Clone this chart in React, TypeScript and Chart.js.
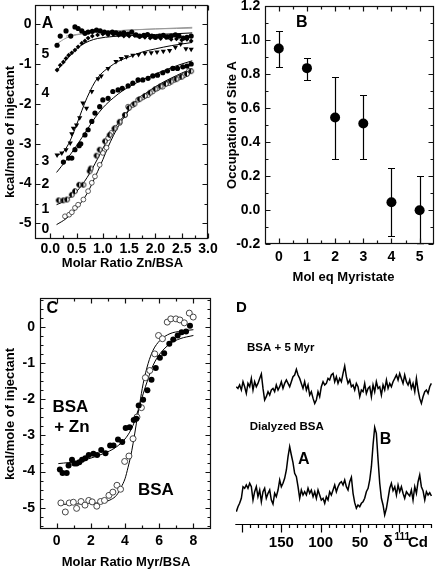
import React, { useEffect, useRef } from "react";
import { Chart, registerables } from "chart.js";
Chart.register(...registerables);

const FONT = 'Arial, "Liberation Sans", Helvetica, sans-serif';

// ---------------- Panel A: ITC Zn into BSA with 0..5 eq myristate ----------------
const aXTicks = [0, 0.5, 1, 1.5, 2, 2.5, 3];
const aXMinor = [0.25, 0.75, 1.25, 1.75, 2.25, 2.75];
const aYTicks = [0, -1, -2, -3, -4, -5];
const aYMinor = [-0.5, -1.5, -2.5, -3.5, -4.5];

const a0X = [0.28, 0.36, 0.41, 0.47, 0.53, 0.63, 0.72, 0.79, 0.85, 0.94, 1.0, 1.07, 1.1, 1.16, 1.24, 1.32, 1.42, 1.48, 1.57, 1.67, 1.76, 1.86, 1.95, 2.04, 2.14, 2.26, 2.36, 2.45, 2.55, 2.64];
const a0Y = [-4.82, -4.78, -4.72, -4.61, -4.53, -4.4, -4.19, -3.98, -3.82, -3.53, -3.23, -3.1, -2.86, -2.73, -2.6, -2.48, -2.28, -2.07, -2.03, -1.9, -1.84, -1.78, -1.69, -1.61, -1.57, -1.48, -1.4, -1.34, -1.28, -1.17];
const a1X = [0.16, 0.25, 0.32, 0.41, 0.47, 0.55, 0.63, 0.75, 0.77, 0.88, 0.94, 1.04, 1.13, 1.22, 1.32, 1.42, 1.5, 1.6, 1.7, 1.8, 1.9, 2.0, 2.1, 2.2, 2.3, 2.4, 2.5, 2.6, 2.68];
const a1Y = [-4.42, -4.42, -4.4, -4.28, -4.19, -4.03, -4.03, -3.69, -3.62, -3.3, -3.15, -2.94, -2.78, -2.62, -2.45, -2.28, -2.1, -2.0, -1.88, -1.8, -1.72, -1.63, -1.56, -1.5, -1.44, -1.38, -1.32, -1.25, -1.18];
const a2X = [0.25, 0.35, 0.41, 0.47, 0.55, 0.58, 0.66, 0.72, 0.79, 0.85, 0.94, 1.0, 1.1, 1.19, 1.29, 1.37, 1.48, 1.57, 1.67, 1.76, 1.86, 1.95, 2.04, 2.14, 2.23, 2.33, 2.42, 2.52, 2.6, 2.68];
const a2Y = [-3.46, -3.36, -3.36, -3.15, -3.05, -3.0, -2.78, -2.65, -2.44, -2.23, -2.07, -1.9, -1.86, -1.69, -1.65, -1.61, -1.55, -1.48, -1.4, -1.4, -1.36, -1.3, -1.28, -1.22, -1.17, -1.11, -1.11, -1.07, -1.05, -1.0];
const a3X = [0.13, 0.22, 0.3, 0.38, 0.41, 0.44, 0.5, 0.56, 0.62, 0.69, 0.79, 0.91, 0.97, 1.1, 1.25, 1.35, 1.45, 1.57, 1.68, 1.8, 1.92, 2.03, 2.15, 2.27, 2.38, 2.48, 2.58, 2.68];
const a3Y = [-3.28, -3.23, -3.15, -2.98, -2.75, -2.61, -2.53, -2.35, -1.98, -2.11, -1.69, -1.37, -1.3, -1.11, -0.94, -0.86, -0.82, -0.78, -0.76, -0.73, -0.72, -0.7, -0.68, -0.66, -0.58, -0.5, -0.62, -0.63];
const a4X = [0.13, 0.19, 0.25, 0.3, 0.35, 0.41, 0.47, 0.53, 0.6, 0.66, 0.72, 0.8, 0.9, 1.0, 1.1, 1.2, 1.3, 1.4, 1.5, 1.6, 1.7, 1.8, 1.9, 2.0, 2.1, 2.2, 2.3, 2.4, 2.5, 2.6, 2.68];
const a4Y = [-1.15, -1.03, -0.95, -0.86, -0.78, -0.72, -0.65, -0.57, -0.48, -0.42, -0.35, -0.3, -0.27, -0.25, -0.27, -0.26, -0.28, -0.3, -0.3, -0.28, -0.32, -0.33, -0.35, -0.32, -0.36, -0.34, -0.38, -0.37, -0.4, -0.38, -0.42];
const a5X = [0.13, 0.19, 0.3, 0.39, 0.47, 0.53, 0.6, 0.66, 0.72, 0.8, 0.88, 0.95, 1.03, 1.1, 1.18, 1.25, 1.33, 1.4, 1.48, 1.55, 1.63, 1.7, 1.78, 1.85, 1.93, 2.0, 2.08, 2.15, 2.23, 2.3, 2.38, 2.45, 2.53, 2.6, 2.68];
const a5Y = [-0.53, -0.3, -0.17, -0.3, -0.07, -0.11, -0.17, -0.23, -0.2, -0.18, -0.15, -0.17, -0.2, -0.22, -0.2, -0.22, -0.24, -0.22, -0.25, -0.2, -0.27, -0.3, -0.28, -0.26, -0.3, -0.33, -0.3, -0.28, -0.32, -0.3, -0.27, -0.3, -0.35, -0.33, -0.3];

const aFit0X = [0.12, 0.3, 0.5, 0.7, 0.9, 1.0, 1.1, 1.2, 1.3, 1.45, 1.6, 1.8, 2.0, 2.2, 2.4, 2.6, 2.7];
const aFit0Y = [-5.03, -4.88, -4.62, -4.25, -3.7, -3.4, -3.08, -2.8, -2.55, -2.25, -2.0, -1.78, -1.6, -1.45, -1.32, -1.2, -1.15];
const aFit1X = [0.12, 0.3, 0.5, 0.7, 0.9, 1.0, 1.1, 1.2, 1.3, 1.45, 1.6, 1.8, 2.0, 2.2, 2.4, 2.6, 2.7];
const aFit1Y = [-4.53, -4.42, -4.2, -3.85, -3.38, -3.12, -2.88, -2.66, -2.47, -2.22, -1.97, -1.75, -1.57, -1.42, -1.29, -1.17, -1.12];
const aFit2X = [0.12, 0.3, 0.5, 0.7, 0.85, 1.0, 1.2, 1.4, 1.6, 1.8, 2.0, 2.25, 2.5, 2.7];
const aFit2Y = [-3.72, -3.42, -3.05, -2.65, -2.35, -2.1, -1.85, -1.65, -1.5, -1.37, -1.25, -1.12, -1.0, -0.92];
const aFit3X = [0.12, 0.25, 0.35, 0.45, 0.55, 0.65, 0.75, 0.85, 0.95, 1.1, 1.3, 1.5, 1.75, 2.0, 2.3, 2.7];
const aFit3Y = [-3.3, -3.2, -3.0, -2.7, -2.35, -2.0, -1.7, -1.45, -1.27, -1.1, -0.93, -0.82, -0.7, -0.62, -0.54, -0.46];
const aFit4X = [0.12, 0.2, 0.3, 0.4, 0.5, 0.6, 0.75, 0.9, 1.2, 1.6, 2.0, 2.4, 2.7];
const aFit4Y = [-1.18, -1.05, -0.9, -0.75, -0.62, -0.52, -0.42, -0.36, -0.31, -0.28, -0.26, -0.24, -0.22];
const aFit5aX = [0.12, 0.3, 0.5, 0.8, 1.2, 1.6, 2.0, 2.4, 2.7];
const aFit5aY = [-0.5, -0.35, -0.27, -0.21, -0.17, -0.14, -0.12, -0.11, -0.1];
const aFit5bX = [0.3, 0.6, 1.0, 1.5, 2.0, 2.7];
const aFit5bY = [-0.3, -0.24, -0.19, -0.15, -0.12, -0.08];

const aCurveLabels = ["0", "1", "2", "3", "4", "5"];
const aCurveLabelY = [-5.15, -4.65, -4.01, -3.44, -1.73, -0.75];

// ---------------- Panel B: occupation of site A ----------------
const bXTicks = [0, 1, 2, 3, 4, 5];
const bXMinor = [0.5, 1.5, 2.5, 3.5, 4.5];
const bYTicks = [-0.2, 0, 0.2, 0.4, 0.6, 0.8, 1.0, 1.2];
const bYMinor = [-0.1, 0.1, 0.3, 0.5, 0.7, 0.9, 1.1];
const bX = [0, 1, 2, 3, 4, 5];
const bY = [0.95, 0.835, 0.545, 0.51, 0.047, 0.0];
const bLow = [0.842, 0.765, 0.3, 0.3, -0.152, -0.2];
const bHigh = [1.055, 0.896, 0.78, 0.675, 0.25, 0.2];

// ---------------- Panel C: ITC myristate into BSA ----------------
const cXTicks = [0, 2, 4, 6, 8];
const cXMinor = [1, 3, 5, 7];
const cYTicks = [0, -1, -2, -3, -4, -5];
const cYMinor = [0.75, 0.5, 0.25, -0.25, -0.5, -0.75, -1.25, -1.5, -1.75, -2.25, -2.5, -2.75, -3.25, -3.5, -3.75, -4.25, -4.5, -4.75, -5.25, -5.5];
const cZnX = [0.19, 0.35, 0.59, 0.7, 0.9, 1.04, 1.17, 1.33, 1.49, 1.68, 1.88, 2.15, 2.37, 2.61, 2.86, 3.13, 3.33, 3.59, 3.84, 4.04, 4.27, 4.51, 4.66, 4.8, 5.06, 5.31, 5.55, 5.8, 6.04, 6.29, 6.59, 6.82, 7.08, 7.31, 7.57, 7.8];
const cZnY = [-3.94, -4.04, -4.04, -3.83, -3.67, -3.78, -3.78, -3.74, -3.67, -3.63, -3.54, -3.51, -3.54, -3.4, -3.49, -3.28, -3.28, -3.11, -3.18, -2.79, -2.77, -2.57, -2.54, -2.17, -2.01, -1.75, -1.46, -1.13, -0.85, -0.72, -0.46, -0.34, -0.23, -0.14, -0.12, 0.04];
const cBsaX = [0.25, 0.51, 0.74, 0.98, 1.17, 1.43, 1.66, 1.88, 2.08, 2.35, 2.57, 2.8, 3.06, 3.29, 3.53, 3.74, 3.98, 4.23, 4.47, 4.7, 4.96, 5.19, 5.45, 5.74, 5.96, 6.19, 6.47, 6.68, 6.98, 7.21, 7.47, 7.76, 7.99];
const cBsaY = [-4.87, -5.12, -4.87, -4.85, -5.02, -4.83, -4.93, -4.8, -4.84, -4.96, -4.83, -4.8, -4.66, -4.57, -4.38, -4.49, -3.72, -3.57, -3.09, -2.49, -2.23, -1.4, -1.2, -0.74, -0.23, -0.32, 0.14, 0.23, 0.23, 0.2, 0.12, 0.39, 0.28];
const cBsaFitX = [0.2, 1, 2, 2.7, 3.2, 3.5, 3.78, 4.0, 4.18, 4.33, 4.47, 4.66, 4.86, 5.06, 5.35, 5.64, 6.04, 6.63, 7.3, 8.0];
const cBsaFitY = [-4.91, -4.9, -4.88, -4.85, -4.77, -4.66, -4.43, -4.2, -3.88, -3.58, -3.23, -2.68, -2.12, -1.57, -1.01, -0.64, -0.37, -0.18, -0.11, -0.07];
const cZnFitX = [0.1, 1.33, 2.7, 3.49, 4.08, 4.47, 4.76, 5.06, 5.35, 5.64, 6.04, 6.63, 7.22, 8.0];
const cZnFitY = [-3.78, -3.71, -3.51, -3.32, -3.05, -2.72, -2.31, -1.85, -1.43, -1.06, -0.74, -0.46, -0.32, -0.23];

// ---------------- Panel D: 111Cd NMR spectra ----------------
const dMajor = [200, 150, 100, 50, 0];
const dMinor = [190, 180, 170, 160, 140, 130, 120, 110, 90, 80, 70, 60, 40, 30, 20, 10, -10, -20, -30, -40];
const dLabels = [150, 100, 50];
const dPpm = [207.2, 205.1, 203.0, 200.8, 198.7, 196.6, 194.5, 192.4, 190.2, 188.1, 186.0, 183.9, 181.8, 179.7, 177.5, 175.4, 173.3, 171.2, 169.1, 166.9, 164.8, 162.7, 160.6, 158.5, 156.4, 154.2, 152.1, 150.0, 147.9, 145.8, 143.6, 141.5, 139.4, 137.3, 135.2, 133.1, 130.9, 128.8, 126.7, 124.6, 122.5, 120.4, 118.2, 116.1, 114.0, 111.9, 109.7, 107.6, 105.5, 103.4, 101.3, 99.2, 97.0, 94.9, 92.8, 90.7, 88.6, 86.5, 84.3, 82.2, 80.1, 78.0, 75.9, 73.7, 71.6, 69.5, 67.4, 65.3, 63.1, 61.0, 58.9, 56.8, 54.7, 52.6, 50.4, 48.3, 46.2, 44.1, 42.0, 39.8, 37.7, 35.6, 33.5, 31.4, 29.3, 27.1, 25.0, 22.9, 20.8, 18.7, 16.5, 14.4, 12.3, 10.2, 8.1, 5.9, 3.8, 1.7, -0.4, -2.5, -4.6, -6.7, -8.9, -11.0, -13.1, -15.2, -17.3, -19.5, -21.6, -23.7, -25.8, -27.9, -30.0, -32.2, -34.3, -36.4, -38.5, -40.6];
const dTop = [0, -1.7, 1.7, -3.3, 5, 0, -6.7, 3.3, 0, 8.3, -3.3, 5, 0, 3.3, 8.3, 12.7, -1.7, -13.3, -10, -5, -8.3, -3.3, -1.7, -5, 1.7, -3.3, 0, 5, -1.7, 3.3, 6.7, 3.3, 0, 5, 10, 11.7, 17.3, 11.7, 8.3, 3.3, -1.7, 5, -3.3, 1.7, -8.3, -5, -11.7, -16.7, -13.3, -5, -10, 0, 5, 1.7, 3.3, 8.3, 6.7, 11.7, 13.3, 5, 10, 3.3, 8.3, 5, 13.3, 20.7, 10, 3.3, 6.7, 0, 1.7, -3.3, 3.3, 0, -10, -3.3, -5, 3.3, -6.7, -1.7, 0, -10, 1.7, -5, 5, -1.7, 0, -8.3, 1.7, -3.3, 6.7, -1.7, 3.3, 0, 5, 8.3, 11.7, 6.7, 13.3, 8.3, 3.3, 11.7, 5, 1.7, 6.7, -1.7, 3.3, -5, 8.3, -3.3, -11.7, -16.7, -10, -5, -3.3, -6.7, 0, 3.3];
const dBot = [-16.7, -11.7, -8.3, -3.3, 8.3, 6.7, 10, 6.7, 11.7, 8.3, -5, 3.3, 8.3, -1.7, 5, -6.7, 3.3, 6.7, -3.3, 1.7, 5, -5, -9, 1.7, -1.7, 5, 15, 8.3, 11.7, 16.7, 25, 38.3, 48.3, 40, 32.3, 21.7, 18.3, 8.3, -3.3, 5, 0, 3.3, 0, 6.7, 1.7, 5, -1.7, 3.3, -3.3, 5, 0, -5, -3.3, -8.3, -1.7, -5, 3.3, 0, 5, 10, 3.3, 8.3, 11.7, 13.3, 10, 15, 8.3, 5, 13.3, 17.7, 1.7, -7.7, -13.3, -10, -11.7, -8.3, -6.7, -3.3, 3.3, 6.7, 15, 28.3, 50, 67.7, 61.7, 35, 11.7, -3.3, -10, -20, -13.3, -3.3, 6.7, 11.7, 4.3, 8.3, 0, 10, 3.3, 8.3, 1.7, -3.3, 3.3, 1, -1, 5, -5, 8.3, 1.7, 13.3, 20, 8.3, 4.3, -5, 3.3, 0, 2.3, -1];

// ---------------- helpers ----------------
const pts = (xs: number[], ys: number[]) => xs.map((x, i) => ({ x, y: ys[i] }));

function framePlugin(xMajor: number[], xMinor: number[], yMajor: number[], yMinor: number[]) {
  return {
    id: "frame",
    afterDatasetsDraw(chart: any) {
      const { ctx, chartArea } = chart;
      const xs = chart.scales.x;
      const ys = chart.scales.y;
      const L = Math.round(chartArea.left) + 0.5;
      const R = Math.round(chartArea.right) - 0.5;
      const T = Math.round(chartArea.top) + 0.5;
      const B = Math.round(chartArea.bottom) - 0.5;
      ctx.save();
      ctx.strokeStyle = "#111";
      ctx.lineWidth = 1.2;
      ctx.strokeRect(L, T, R - L, B - T);
      ctx.beginPath();
      const put = (vals: number[], len: number, isX: boolean) => {
        for (const v of vals) {
          if (isX) {
            const p = Math.round(xs.getPixelForValue(v)) + 0.5;
            ctx.moveTo(p, B); ctx.lineTo(p, B - len);
            ctx.moveTo(p, T); ctx.lineTo(p, T + len);
          } else {
            const p = Math.round(ys.getPixelForValue(v)) + 0.5;
            ctx.moveTo(L, p); ctx.lineTo(L + len, p);
            ctx.moveTo(R, p); ctx.lineTo(R - len, p);
          }
        }
      };
      put(xMajor, 5, true);
      put(xMinor, 3, true);
      put(yMajor, 5, false);
      put(yMinor, 3, false);
      ctx.stroke();
      ctx.restore();
    },
  };
}

// axis tick labels and titles, placed through the chart's own scales
function axesPlugin(c: any) {
  return {
    id: "axes",
    afterDraw(chart: any) {
      const { ctx } = chart;
      const xs = chart.scales.x, ys = chart.scales.y;
      ctx.save();
      ctx.fillStyle = "#000";
      ctx.textBaseline = "middle";
      ctx.font = `bold 14px ${FONT}`;
      ctx.textAlign = "center";
      for (const v of c.xTicks) ctx.fillText(c.xFmt(v), xs.getPixelForValue(v), c.xLabelY);
      ctx.textAlign = "right";
      for (const v of c.yTicks) ctx.fillText(c.yFmt(v), c.yLabelRight, ys.getPixelForValue(v));
      ctx.font = `bold 13px ${FONT}`;
      ctx.textAlign = "center";
      ctx.fillText(c.xTitle, c.xTitleX, c.xTitleY);
      ctx.translate(c.yTitleX, c.yTitleY);
      ctx.rotate(-Math.PI / 2);
      ctx.fillText(c.yTitle, 0, 0);
      ctx.restore();
    },
  };
}

type Lbl = { t: string; x: number; y: number; size: number; align?: CanvasTextAlign; px?: boolean };
function textPlugin(labels: Lbl[]) {
  return {
    id: "texts",
    afterDraw(chart: any) {
      const { ctx } = chart;
      ctx.save();
      ctx.fillStyle = "#000";
      ctx.textBaseline = "middle";
      for (const l of labels) {
        ctx.font = `bold ${l.size}px ${FONT}`;
        ctx.textAlign = l.align || "center";
        const x = l.px ? l.x : chart.scales.x.getPixelForValue(l.x);
        const y = l.px ? l.y : chart.scales.y.getPixelForValue(l.y);
        ctx.fillText(l.t, x, y);
      }
      ctx.restore();
    },
  };
}

function halfCircle(r: number) {
  const c = document.createElement("canvas");
  const s = Math.ceil(2 * r + 3);
  c.width = s;
  c.height = s;
  const g = c.getContext("2d")!;
  const cx = s / 2, cy = s / 2;
  g.fillStyle = "#fff";
  g.beginPath(); g.arc(cx, cy, r, 0, Math.PI * 2); g.fill();
  g.fillStyle = "#000";
  g.beginPath(); g.moveTo(cx, cy); g.arc(cx, cy, r, Math.PI * 0.5, Math.PI * 1.5); g.closePath(); g.fill();
  g.strokeStyle = "#000"; g.lineWidth = 0.9;
  g.beginPath(); g.arc(cx, cy, r, 0, Math.PI * 2); g.stroke();
  return c;
}

const fitLine = (xs: number[], ys: number[], color = "#000") => ({
  data: pts(xs, ys),
  showLine: true,
  borderColor: color,
  borderWidth: 1,
  pointRadius: 0,
  cubicInterpolationMode: "monotone",
});

const baseOpts = (padding: any) => ({
  animation: false,
  responsive: false,
  events: [],
  layout: { padding },
  plugins: { legend: { display: false }, tooltip: { enabled: false } },
});

const hidden = (min: number, max: number, reverse = false) => ({ type: "linear", display: false, min, max, reverse });

// ---------------- configs ----------------
function configA(): any {
  return {
    type: "scatter",
    data: {
      datasets: [
        { data: pts(a5X, a5Y), pointRadius: 2.6, backgroundColor: "#000", borderColor: "#000", borderWidth: 0 },
        { data: pts(a4X, a4Y), pointRadius: 2.4, pointStyle: "rectRot", backgroundColor: "#000", borderColor: "#000", borderWidth: 0 },
        { data: pts(a3X, a3Y), pointRadius: 3, pointStyle: "triangle", rotation: 180, backgroundColor: "#000", borderColor: "#000", borderWidth: 0 },
        { data: pts(a2X, a2Y), pointRadius: 2.6, backgroundColor: "#000", borderColor: "#000", borderWidth: 0 },
        { data: pts(a1X, a1Y), pointStyle: halfCircle(2.4), pointRadius: 2.4 },
        { data: pts(a0X, a0Y), pointRadius: 2.4, backgroundColor: "#fff", borderColor: "#333", borderWidth: 0.8 },
        fitLine(aFit0X, aFit0Y),
        fitLine(aFit1X, aFit1Y),
        fitLine(aFit2X, aFit2Y),
        fitLine(aFit3X, aFit3Y),
        fitLine(aFit4X, aFit4Y),
        fitLine(aFit5aX, aFit5aY, "#999"),
        fitLine(aFit5bX, aFit5bY, "#999"),
      ],
    },
    options: {
      ...baseOpts({ left: 35, top: 5, right: 14, bottom: 46 }),
      scales: { x: hidden(-0.29, 3.0), y: hidden(-5.39, 0.48) },
    },
    plugins: [
      framePlugin(aXTicks, aXMinor, aYTicks, aYMinor),
      axesPlugin({
        xTicks: aXTicks, xFmt: (v: number) => v.toFixed(1), xLabelY: 249,
        xTitle: "Molar Ratio Zn/BSA", xTitleX: 122.5, xTitleY: 263.5,
        yTicks: aYTicks, yFmt: (v: number) => String(v), yLabelRight: 31.5,
        yTitle: "kcal/mole of injectant", yTitleX: 10, yTitleY: 132,
      }),
      textPlugin([
        { t: "A", x: -0.05, y: 0.02, size: 16 },
        ...aCurveLabels.map((t, i) => ({ t, x: -0.094, y: aCurveLabelY[i], size: 14 })),
      ]),
    ],
  };
}

function configB(): any {
  const errPlugin = {
    id: "errbars",
    beforeDatasetsDraw(chart: any) {
      const { ctx, chartArea } = chart;
      const xs = chart.scales.x, ys = chart.scales.y;
      ctx.save();
      ctx.beginPath();
      ctx.rect(chartArea.left, chartArea.top, chartArea.right - chartArea.left, chartArea.bottom - chartArea.top);
      ctx.clip();
      ctx.strokeStyle = "#000";
      ctx.lineWidth = 1.2;
      bX.forEach((xv, i) => {
        const px = Math.round(xs.getPixelForValue(xv)) + 0.5;
        const y1 = Math.round(ys.getPixelForValue(bLow[i])) + 0.5;
        const y2 = Math.round(ys.getPixelForValue(bHigh[i])) + 0.5;
        ctx.beginPath();
        ctx.moveTo(px, y1); ctx.lineTo(px, y2);
        ctx.moveTo(px - 3.5, y1); ctx.lineTo(px + 3.5, y1);
        ctx.moveTo(px - 3.5, y2); ctx.lineTo(px + 3.5, y2);
        ctx.stroke();
      });
      ctx.restore();
    },
  };
  return {
    type: "scatter",
    data: {
      datasets: [{ data: pts(bX, bY), pointRadius: 5, backgroundColor: "#000", borderColor: "#000", borderWidth: 0 }],
    },
    options: {
      ...baseOpts({ left: 42.7, top: 6, right: 10.3, bottom: 40.7 }),
      scales: { x: hidden(-0.5, 5.5), y: hidden(-0.2, 1.2) },
    },
    plugins: [
      errPlugin,
      framePlugin(bXTicks, bXMinor, bYTicks, bYMinor),
      axesPlugin({
        xTicks: bXTicks, xFmt: (v: number) => String(v), xLabelY: 256.7,
        xTitle: "Mol eq Myristate", xTitleX: 121.5, xTitleY: 277.7,
        yTicks: bYTicks, yFmt: (v: number) => v.toFixed(1), yLabelRight: 38.3,
        yTitle: "Occupation of Site A", yTitleX: 10, yTitleY: 125,
      }),
      textPlugin([{ t: "B", x: 0.82, y: 1.1, size: 16 }]),
    ],
  };
}

function configC(): any {
  return {
    type: "scatter",
    data: {
      datasets: [
        { data: pts(cZnX, cZnY), pointRadius: 3, backgroundColor: "#000", borderColor: "#000", borderWidth: 0 },
        { data: pts(cBsaX, cBsaY), pointRadius: 3, backgroundColor: "#fff", borderColor: "#333", borderWidth: 0.9 },
        fitLine(cBsaFitX, cBsaFitY),
        fitLine(cZnFitX, cZnFitY),
      ],
    },
    options: {
      ...baseOpts({ left: 39.5, top: 13.3, right: 11.5, bottom: 39.7 }),
      scales: { x: hidden(-1, 9), y: hidden(-5.6, 0.8) },
    },
    plugins: [
      framePlugin(cXTicks, cXMinor, cYTicks, cYMinor),
      axesPlugin({
        xTicks: cXTicks, xFmt: (v: number) => String(v), xLabelY: 255.7,
        xTitle: "Molar Ratio Myr/BSA", xTitleX: 126, xTitleY: 277.3,
        yTicks: cYTicks, yFmt: (v: number) => String(v), yLabelRight: 35,
        yTitle: "kcal/mole of injectant", yTitleX: 10, yTitleY: 129,
      }),
      textPlugin([
        { t: "C", x: -0.25, y: 0.52, size: 16 },
        { t: "BSA", x: -0.24, y: -2.22, size: 17, align: "left" },
        { t: "+ Zn", x: -0.14, y: -2.77, size: 17, align: "left" },
        { t: "BSA", x: 4.76, y: -4.52, size: 17, align: "left" },
      ]),
    ],
  };
}

function configD(): any {
  const axisPlugin = {
    id: "daxis",
    afterDraw(chart: any) {
      const { ctx, chartArea } = chart;
      const xs = chart.scales.x;
      const yb = Math.round(chartArea.bottom) + 0.5;
      ctx.save();
      ctx.strokeStyle = "#000";
      ctx.lineWidth = 1.2;
      ctx.beginPath();
      ctx.moveTo(chartArea.left - 0.7, yb);
      ctx.lineTo(chartArea.right, yb);
      for (const v of dMajor) {
        const p = Math.round(xs.getPixelForValue(v)) + 0.5;
        ctx.moveTo(p, yb); ctx.lineTo(p, yb + 8);
      }
      for (const v of dMinor) {
        const p = Math.round(xs.getPixelForValue(v)) + 0.5;
        ctx.moveTo(p, yb); ctx.lineTo(p, yb + 3.5);
      }
      ctx.stroke();
      ctx.fillStyle = "#000";
      ctx.textBaseline = "middle";
      ctx.textAlign = "center";
      ctx.font = `bold 15px ${FONT}`;
      for (const v of dLabels) ctx.fillText(String(v), xs.getPixelForValue(v), yb + 18);
      ctx.textAlign = "left";
      ctx.font = `bold 16px ${FONT}`;
      ctx.fillText("δ", 161, yb + 18);
      ctx.font = `bold 10px ${FONT}`;
      ctx.fillText("111", 172.5, yb + 13);
      ctx.font = `bold 15px ${FONT}`;
      ctx.fillText("Cd", 186, yb + 18);
      ctx.restore();
    },
  };
  return {
    type: "scatter",
    data: {
      datasets: [
        { data: pts(dPpm, dTop), yAxisID: "yTop", showLine: true, borderColor: "#000", borderWidth: 1.5, pointRadius: 0 },
        { data: pts(dPpm, dBot), yAxisID: "yBot", showLine: true, borderColor: "#000", borderWidth: 1.5, pointRadius: 0 },
      ],
    },
    options: {
      ...baseOpts({ left: 14, top: 15, right: 12, bottom: 44.7 }),
      scales: {
        x: hidden(-41.4, 207.6, true),
        yTop: hidden(-137.6, 86.7),
        yBot: hidden(-29.3, 195),
      },
    },
    plugins: [
      axisPlugin,
      textPlugin([
        { t: "D", x: 14, y: 23.3, size: 15, align: "left", px: true },
        { t: "BSA + 5 Myr", x: 25, y: 63.3, size: 11.5, align: "left", px: true },
        { t: "Dialyzed BSA", x: 27.7, y: 141.7, size: 11.5, align: "left", px: true },
        { t: "A", x: 81.8, y: 175, size: 16, px: true },
        { t: "B", x: 163.5, y: 154.2, size: 16, px: true },
      ]),
    ],
  };
}

function Panel({ left, top, width, height, make }: { left: number; top: number; width: number; height: number; make: () => any }) {
  const ref = useRef<HTMLCanvasElement>(null);
  useEffect(() => {
    const chart = new Chart(ref.current as HTMLCanvasElement, make());
    return () => chart.destroy();
  }, []);
  return (
    <div style={{ position: "absolute", left, top, width, height }}>
      <canvas ref={ref} width={width} height={height} style={{ display: "block", width, height }} />
    </div>
  );
}

export default function App() {
  return (
    <div style={{ position: "absolute", left: 0, top: 0, width: 444, height: 569, overflow: "hidden", background: "#fff" }}>
      <Panel left={0} top={0} width={222} height={285} make={configA} />
      <Panel left={222} top={0} width={222} height={285} make={configB} />
      <Panel left={0} top={285} width={222} height={284} make={configC} />
      <Panel left={222} top={285} width={222} height={284} make={configD} />
    </div>
  );
}
